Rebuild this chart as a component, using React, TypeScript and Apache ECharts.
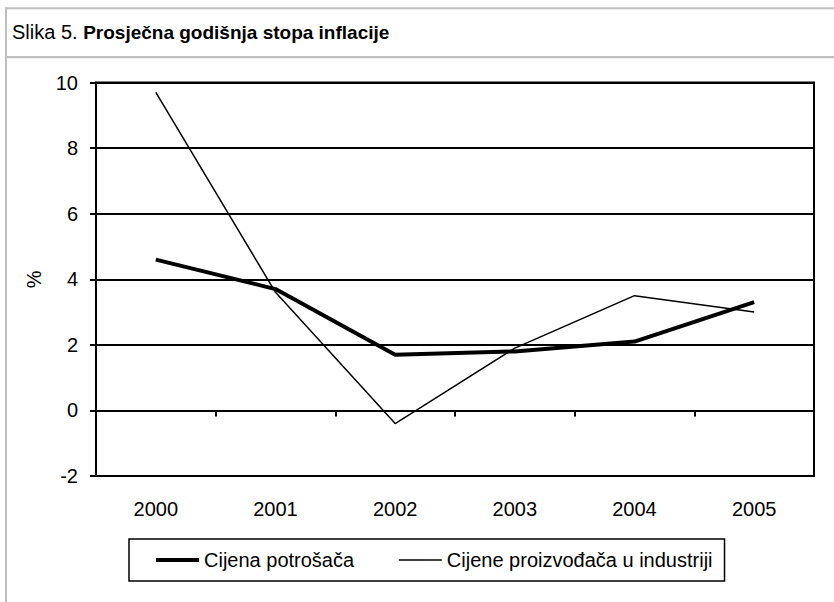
import React, { useEffect, useRef } from 'react';
import * as echarts from 'echarts';

const years = ['2000', '2001', '2002', '2003', '2004', '2005'];
const consumerPrices = [4.6, 3.7, 1.7, 1.8, 2.1, 3.3];
const producerPrices = [9.7, 3.6, -0.4, 1.9, 3.5, 3.0];
const seriesNames = ['Cijena potrošača', 'Cijene proizvođača u industriji'];
const figureLabel = 'Slika 5.';
const figureTitle = 'Prosječna godišnja stopa inflacije';
const yAxisName = '%';
const yMin = -2;
const yMax = 10;
const yStep = 2;

const FONT = '"Liberation Sans", Arial, sans-serif';

export default function App() {
  const ref = useRef<HTMLDivElement>(null);

  useEffect(() => {
    if (!ref.current) return;
    const chart = echarts.init(ref.current, null, { renderer: 'svg' });
    const black = '#000';
    const grey = '#c0c0c0';
    const gridBox = { left: 96, right: 20, top: 82.5, bottom: 126 };

    chart.setOption({
      animation: false,
      backgroundColor: '#fff',
      textStyle: { fontFamily: FONT, color: black },
      title: {
        text: `{a|${figureLabel}} {b|${figureTitle}}`,
        left: 12,
        top: 22,
        padding: 0,
        textStyle: {
          fontWeight: 'normal',
          fontSize: 20,
          rich: {
            a: { fontSize: 20, fontFamily: FONT, color: black, fontWeight: 'normal' },
            b: { fontSize: 19, fontFamily: FONT, color: black, fontWeight: 'bold' },
          },
        },
      },
      graphic: [
        { type: 'line', shape: { x1: 5, y1: 8.3, x2: 834, y2: 8.3 }, style: { stroke: grey, lineWidth: 2 } },
        { type: 'line', shape: { x1: 6, y1: 8, x2: 6, y2: 602 }, style: { stroke: grey, lineWidth: 2 } },
        { type: 'line', shape: { x1: 6, y1: 57.2, x2: 834, y2: 57.2 }, style: { stroke: grey, lineWidth: 2.3 } },
      ],
      grid: [
        { ...gridBox, show: true, borderColor: black, borderWidth: 2, backgroundColor: 'transparent' },
        { ...gridBox, show: false },
      ],
      xAxis: [
        {
          type: 'category',
          gridIndex: 0,
          data: years,
          boundaryGap: true,
          position: 'bottom',
          axisLine: { show: true, onZero: true, lineStyle: { color: black, width: 2 } },
          axisTick: { show: true, length: 6, lineStyle: { color: black, width: 2 } },
          axisLabel: { show: false },
          splitLine: { show: false },
        },
        {
          type: 'category',
          gridIndex: 1,
          data: years,
          boundaryGap: true,
          position: 'bottom',
          axisLine: { show: false, onZero: false },
          axisTick: { show: false },
          axisLabel: { show: true, fontSize: 20, color: black, fontFamily: FONT, margin: 23 },
          splitLine: { show: false },
        },
      ],
      yAxis: [
        {
          type: 'value',
          gridIndex: 0,
          min: yMin,
          max: yMax,
          interval: yStep,
          name: yAxisName,
          nameLocation: 'middle',
          nameRotate: 90,
          nameGap: 52,
          nameTextStyle: { fontSize: 20, color: black, fontFamily: FONT },
          axisLine: { show: true, lineStyle: { color: black, width: 2 } },
          axisTick: { show: true, length: 6, lineStyle: { color: black, width: 2 } },
          axisLabel: { fontSize: 20, color: black, fontFamily: FONT, margin: 18 },
          splitLine: { show: true, lineStyle: { color: black, width: 2 } },
        },
        {
          type: 'value',
          gridIndex: 1,
          min: yMin,
          max: yMax,
          interval: yStep,
          show: false,
          splitLine: { show: false },
        },
      ],
      legend: {
        left: 129,
        top: 539,
        orient: 'horizontal',
        padding: [11, 12, 11, 25],
        itemGap: 44,
        itemWidth: 43,
        itemHeight: 20,
        borderColor: black,
        borderWidth: 1.5,
        backgroundColor: '#fff',
        textStyle: { fontSize: 20, color: black, fontFamily: FONT },
        data: [
          { name: seriesNames[0], itemStyle: { opacity: 0 }, lineStyle: { width: 4, color: black, opacity: 1 } },
          { name: seriesNames[1], itemStyle: { opacity: 0 }, lineStyle: { width: 1.5, color: black, opacity: 1 } },
        ],
      },
      series: [
        {
          type: 'line',
          name: seriesNames[0],
          data: consumerPrices,
          xAxisIndex: 0,
          yAxisIndex: 0,
          symbol: 'none',
          lineStyle: { color: black, width: 4 },
          itemStyle: { color: black },
          z: 3,
        },
        {
          type: 'line',
          name: seriesNames[1],
          data: producerPrices,
          xAxisIndex: 0,
          yAxisIndex: 0,
          symbol: 'none',
          lineStyle: { color: black, width: 1.5 },
          itemStyle: { color: black },
          z: 4,
        },
      ],
    });

    return () => chart.dispose();
  }, []);

  return (
    <div
      ref={ref}
      style={{ position: 'absolute', left: 0, top: 0, width: 834, height: 602, background: '#fff' }}
    />
  );
}
